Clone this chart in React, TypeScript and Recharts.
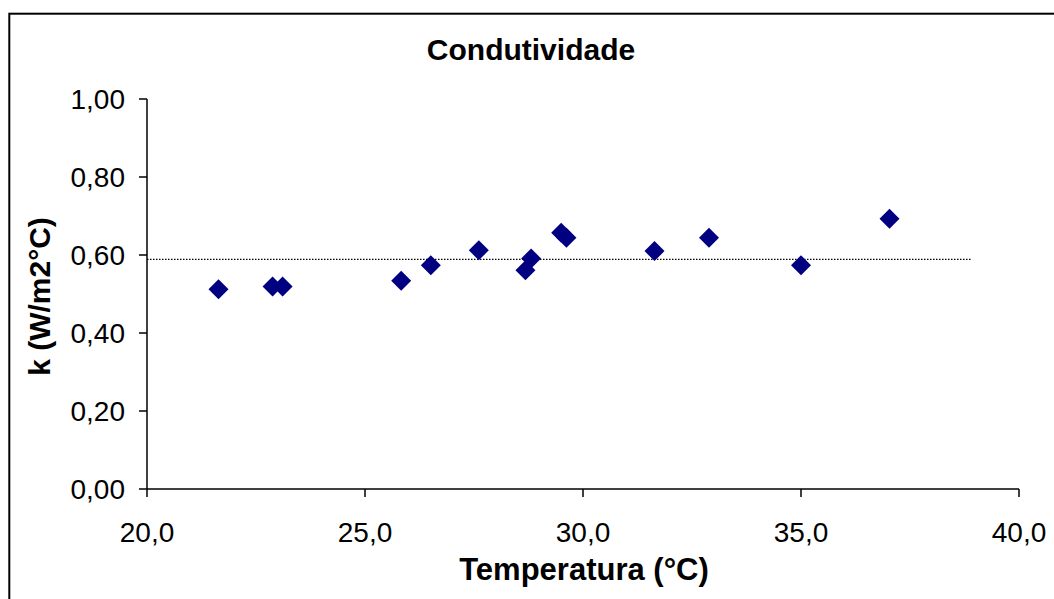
import { ScatterChart, Scatter, XAxis, YAxis, ReferenceLine } from 'recharts'

const temperatures = [21.64, 22.88, 23.11, 25.83, 26.51, 27.61, 28.68, 28.81, 29.5, 29.62, 31.64, 32.89, 35.0, 37.03]
const conductivities = [0.512, 0.519, 0.519, 0.534, 0.574, 0.612, 0.561, 0.591, 0.657, 0.644, 0.61, 0.644, 0.574, 0.693]
const xTicks = [20, 25, 30, 35, 40]
const yTicks = [0, 0.2, 0.4, 0.6, 0.8, 1.0]
const meanLineRange = [20, 38.9]

const points = temperatures.map((t, i) => ({ t, k: conductivities[i] }))
const meanK = conductivities.reduce((a, b) => a + b, 0) / conductivities.length

const font = '"Liberation Sans", Arial, sans-serif'

function Diamond(props: any) {
    const { cx, cy } = props
    if (cx == null || cy == null) return null
    const r = 10
    return (
        <polygon
            points={`${cx},${cy - r} ${cx + r},${cy} ${cx},${cy + r} ${cx - r},${cy}`}
            fill="#000080"
        />
    )
}

export default function App() {
    return (
        <div style={{ position: 'fixed', left: 0, top: 0, width: 1054, height: 599, overflow: 'hidden', background: '#fff' }}>
            <ScatterChart width={1054} height={599} margin={{ top: 99, right: 35, bottom: 0, left: 0 }}>
                <XAxis
                    type="number"
                    dataKey="t"
                    domain={[20, 40]}
                    ticks={xTicks}
                    tickFormatter={(v: number) => v.toFixed(1).replace('.', ',')}
                    height={110}
                    tickSize={8}
                    tickMargin={25}
                    stroke="#000"
                    strokeWidth={1.5}
                    tick={{ fill: '#000', fontSize: 28, fontFamily: font }}
                />
                <YAxis
                    type="number"
                    dataKey="k"
                    domain={[0, 1]}
                    ticks={yTicks}
                    tickFormatter={(v: number) => v.toFixed(2).replace('.', ',')}
                    width={147}
                    tickSize={8}
                    tickMargin={14}
                    stroke="#000"
                    strokeWidth={1.5}
                    tick={{ fill: '#000', fontSize: 28, fontFamily: font }}
                />
                <ReferenceLine
                    segment={[{ x: meanLineRange[0], y: meanK }, { x: meanLineRange[1], y: meanK }]}
                    stroke="#000"
                    strokeWidth={1.3}
                    strokeDasharray="1.5 1.5"
                />
                <Scatter data={points} shape={<Diamond />} isAnimationActive={false} />
            </ScatterChart>
            <svg width={1054} height={599} style={{ position: 'absolute', left: 0, top: 0, pointerEvents: 'none' }}>
                <rect x={9.3} y={13.7} width={1100} height={700} fill="none" stroke="#000" strokeWidth={2} />
                <text x={531} y={60} textAnchor="middle" fontFamily={font} fontWeight="bold" fontSize={30}>
                    Condutividade
                </text>
                <text x={584} y={580} textAnchor="middle" fontFamily={font} fontWeight="bold" fontSize={31}>
                    Temperatura (°C)
                </text>
                <text
                    x={50}
                    y={296.5}
                    textAnchor="middle"
                    fontFamily={font}
                    fontWeight="bold"
                    fontSize={30}
                    transform="rotate(-90, 50, 296.5)"
                >
                    k (W/m2°C)
                </text>
            </svg>
        </div>
    )
}
